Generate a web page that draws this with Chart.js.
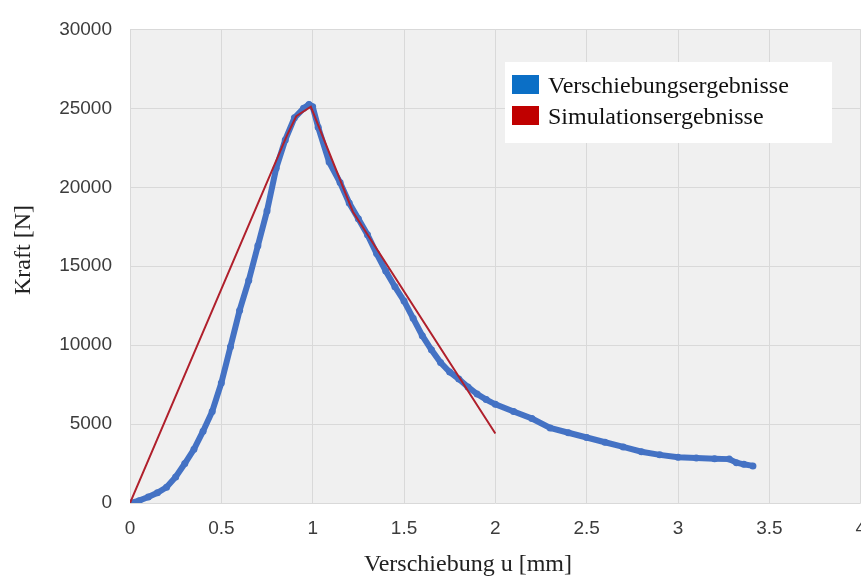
<!DOCTYPE html>
<html>
<head>
<meta charset="utf-8">
<script src="https://cdn.jsdelivr.net/npm/chart.js@4.4.0/dist/chart.umd.min.js"></script>
<style>
  html, body { margin: 0; padding: 0; background: #fff; overflow: hidden; }
  #wrap { width: 880px; height: 581px; }
</style>
</head>
<body>
<div id="wrap"><canvas id="kraftChart" width="880" height="581"></canvas></div>
<script>
// Verschiebung u [mm] / Kraft [N]
var messU = [0, 0.05, 0.1, 0.15, 0.2, 0.25, 0.3, 0.35, 0.4, 0.45, 0.5, 0.55, 0.6, 0.65, 0.7, 0.75, 0.8, 0.85, 0.9, 0.95, 0.98, 1.0,
    1.03, 1.09, 1.15, 1.2, 1.25, 1.3, 1.35, 1.4, 1.45, 1.5, 1.55, 1.6, 1.65, 1.7, 1.75, 1.8, 1.85, 1.9, 1.95, 2.0,
    2.1, 2.2, 2.3, 2.4, 2.5, 2.6, 2.7, 2.8, 2.9, 3.0, 3.1, 3.2, 3.28, 3.32, 3.36, 3.41];
var messKraft = [0, 150, 380, 650, 1000, 1650, 2500, 3400, 4550, 5800, 7600, 9900, 12200, 14100, 16300, 18500, 21200, 23000, 24400, 25000, 25250, 25100,
    23800, 21600, 20300, 19000, 18000, 17000, 15800, 14700, 13700, 12800, 11700, 10600, 9700, 8900, 8300, 7850, 7350, 6900, 6550, 6250,
    5800, 5350, 4750, 4450, 4150, 3850, 3550, 3250, 3050, 2900, 2850, 2800, 2780, 2550, 2450, 2350];
var simU = [0, 0.86, 0.91, 0.99, 1.22, 2.0];
var simKraft = [0, 23300, 24500, 25100, 18450, 4400];
var xTicks = [0, 0.5, 1, 1.5, 2, 2.5, 3, 3.5, 4];
var yTicks = [0, 5000, 10000, 15000, 20000, 25000, 30000];

function toPoints(xs, ys) {
    return xs.map(function (x, i) { return { x: x, y: ys[i] }; });
}

// grauer Hintergrund der Zeichenfläche
var plotBackground = {
    id: 'plotBackground',
    beforeDraw: function (chart) {
        var a = chart.chartArea, c = chart.ctx;
        c.save();
        c.fillStyle = '#f0f0f0';
        c.fillRect(a.left, a.top, a.right - a.left, a.bottom - a.top);
        c.restore();
    }
};

// Legende im Diagramm + Achsentitel
var innerLegend = {
    id: 'innerLegend',
    afterDraw: function (chart) {
        var c = chart.ctx;
        c.save();
        c.fillStyle = '#ffffff';
        c.fillRect(505, 62, 327, 81);
        c.font = '24px "Liberation Serif", "Times New Roman", serif';
        c.textBaseline = 'alphabetic';
        chart.data.datasets.forEach(function (ds, i) {
            var y = 93 + i * 31;
            c.fillStyle = ds.legendColor;
            c.fillRect(512, y - 18, 27, 19);
            c.fillStyle = '#111';
            c.fillText(ds.label, 548, y);
        });

        c.fillStyle = '#222';
        c.textAlign = 'center';
        c.textBaseline = 'middle';
        c.fillText('Verschiebung u [mm]', 468, 565);
        c.translate(24, 250);
        c.rotate(-Math.PI / 2);
        c.fillText('Kraft [N]', 0, 0);
        c.restore();
    }
};

document.addEventListener("DOMContentLoaded", function () {
    var ctx = document.getElementById('kraftChart').getContext('2d');
    var kraftChart = new Chart(ctx, {
        type: 'scatter',
        data: {
            datasets: [{
                label: 'Verschiebungsergebnisse',
                data: toPoints(messU, messKraft),
                showLine: true,
                borderColor: '#4472c4',
                backgroundColor: '#4472c4',
                legendColor: '#0b6fc6',
                borderWidth: 6,
                pointRadius: 3.5,
                pointBorderWidth: 0,
                order: 2
            }, {
                label: 'Simulationsergebnisse',
                data: toPoints(simU, simKraft),
                showLine: true,
                borderColor: '#b0202c',
                backgroundColor: '#b0202c',
                legendColor: '#c00000',
                borderWidth: 2,
                pointRadius: 0,
                order: 1
            }]
        },
        options: {
            responsive: false,
            animation: false,
            layout: { padding: { left: 0, right: 18, top: 21, bottom: 0 } },
            plugins: {
                legend: { display: false },
                tooltip: { enabled: false }
            },
            scales: {
                x: {
                    type: 'linear',
                    min: 0,
                    max: 4,
                    afterFit: function (s) { s.height = 78; },
                    afterBuildTicks: function (s) { s.ticks = xTicks.map(function (v) { return { value: v }; }); },
                    ticks: {
                        padding: 14,
                        color: '#3c3c3c',
                        font: { family: '"Liberation Sans", Arial, sans-serif', size: 19 },
                        callback: function (v) { return String(v); }
                    },
                    grid: { color: '#d9d9d9', drawTicks: false },
                    border: { display: false }
                },
                y: {
                    min: 0,
                    max: 30000,
                    afterFit: function (s) { s.width = 130; },
                    afterBuildTicks: function (s) { s.ticks = yTicks.map(function (v) { return { value: v }; }); },
                    ticks: {
                        padding: 18,
                        color: '#3c3c3c',
                        font: { family: '"Liberation Sans", Arial, sans-serif', size: 19 },
                        callback: function (v) { return String(v); }
                    },
                    grid: { color: '#d9d9d9', drawTicks: false },
                    border: { display: false }
                }
            }
        },
        plugins: [plotBackground, innerLegend]
    });
});
</script>
</body>
</html>
